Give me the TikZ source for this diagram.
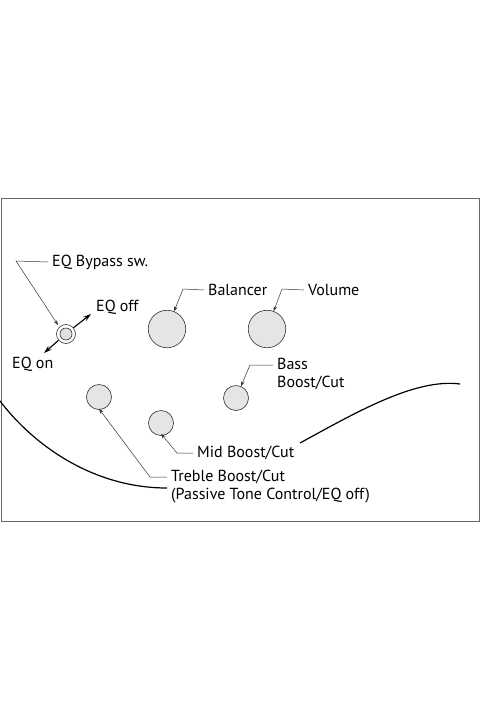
\documentclass[tikz,border=0pt]{standalone}
\usepackage{fontspec}
\setmainfont{PT Sans}
\usetikzlibrary{arrows.meta, positioning}

\begin{document}
\begin{tikzpicture}[
  x=1pt, y=-1pt,
  knob/.style={circle, draw=black!80, fill=black!10, line width=0.6pt, inner sep=0pt},
  swouter/.style={circle, draw=black!80, fill=white, line width=0.6pt, minimum size=19pt, inner sep=0pt},
  swinner/.style={circle, draw=black!80, fill=black!12, line width=0.6pt, minimum size=12pt, inner sep=0pt},
  label/.style={anchor=west, inner sep=0pt, font=\fontsize{16}{18}\selectfont, align=left},
  leader/.style={-{Stealth[length=5pt, width=3.5pt]}, line width=0.5pt, black!80},
  move/.style={-{Stealth[length=8pt, width=5pt]}, line width=1.1pt},
  body/.style={line width=1.2pt}
]
\useasboundingbox (0,0) rectangle (480,720);
\draw[black!60, line width=1pt] (1,198) rectangle (479,521);

% knobs
\node[knob, minimum size=37.5pt] (bal) at (167,329) {};
\node[knob, minimum size=37.5pt] (vol) at (267,329) {};
\node[knob, minimum size=25pt] (bass) at (236,398) {};
\node[knob, minimum size=25pt] (treble) at (99,397) {};
\node[knob, minimum size=25pt] (mid) at (161,423) {};
\node[swouter] (sw) at (66,334) {};
\node[swinner] at (sw) {};

% labels
\node[label] (swtext) at (52,262) {EQ Bypass sw.};
\node[label] (offtext) at (96,307) {EQ off};
\node[label] (ontext) at (12,364) {EQ on};
\node[label] (baltext) at (208,290) {Balancer};
\node[label] (voltext) at (308,290) {Volume};
\node[label] (basstext) at (277,374) {Bass\\Boost/Cut};
\node[label] (midtext) at (197,453) {Mid Boost/Cut};
\node[label] (trebletext) at (171,487) {Treble Boost/Cut\\(Passive Tone Control/EQ off)};

% leader lines
\coordinate (swk) at (16,261);
\coordinate (balk) at (183,289);
\coordinate (volk) at (282,289);
\coordinate (bassk) at (250,365);
\coordinate (midk) at (177,453);
\coordinate (treblek) at (150,477);
\draw[leader] ([xshift=-4pt]swtext.west) -- (swk) -- ([shift={(-1,-2)}]sw.135);
\draw[leader] ([xshift=-4pt]baltext.west) -- (balk) -- (bal);
\draw[leader] ([xshift=-4pt]voltext.west) -- (volk) -- (vol);
\draw[leader] ([xshift=-4pt]basstext.west |- bassk) -- (bassk) -- (bass);
\draw[leader] ([xshift=-4pt]midtext.west) -- (midk) -- ([yshift=2pt]mid.south);
\draw[leader] ([xshift=-4pt]trebletext.west |- treblek) -- (treblek) -- ([yshift=1pt]treble.south);

% switch directions
\coordinate (offend) at (91,314);
\coordinate (onend) at (44,353);
\draw[move] (sw.40) -- (offend);
\draw[move] (sw.220) -- (onend);

% body outline
\draw[body] (0,401) .. controls (35,447) and (95,488) .. (167,488);
\draw[body] (300,443) .. controls (355,413) and (415,378) .. (460,384);
\end{tikzpicture}
\end{document}
